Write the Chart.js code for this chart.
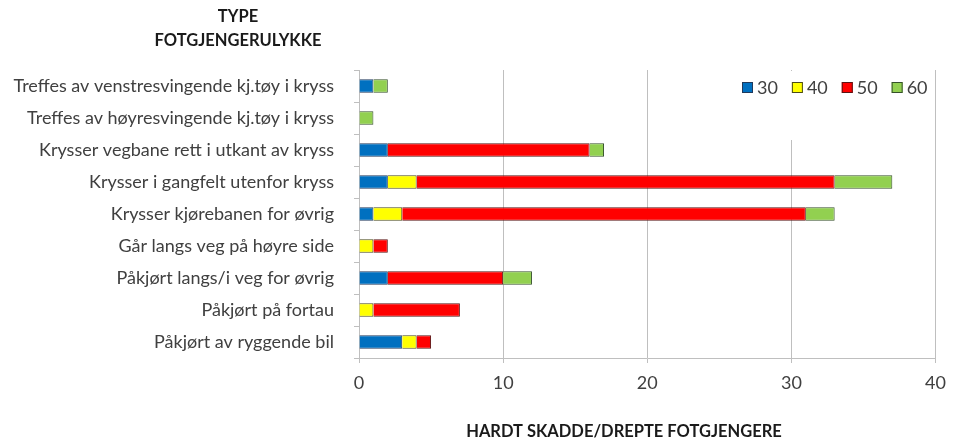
<!DOCTYPE html>
<html>
<head>
<meta charset="utf-8">
<script src="https://cdn.jsdelivr.net/npm/chart.js@4.4.1/dist/chart.umd.min.js"></script>
<style>
  html, body { margin: 0; padding: 0; background: #fff; }
  #wrap { width: 955px; height: 441px; }
</style>
</head>
<body>
<div id="wrap"><canvas id="c" width="955" height="441"></canvas></div>
<script>
const categories = [
    'Treffes av venstresvingende kj.tøy i kryss',
    'Treffes av høyresvingende kj.tøy i kryss',
    'Krysser vegbane rett i utkant av kryss',
    'Krysser i gangfelt utenfor kryss',
    'Krysser kjørebanen for øvrig',
    'Går langs veg på høyre side',
    'Påkjørt langs/i veg for øvrig',
    'Påkjørt på fortau',
    'Påkjørt av ryggende bil'
];
const speed30 = [1, 0, 2, 2, 1, 0, 2, 0, 3];
const speed40 = [0, 0, 0, 2, 2, 1, 0, 1, 1];
const speed50 = [0, 0, 14, 29, 28, 1, 8, 6, 1];
const speed60 = [1, 1, 1, 4, 2, 0, 2, 0, 0];
const seriesNames = ['30', '40', '50', '60'];
const xTicks = [0, 10, 20, 30, 40];

const FONT = 'Lato, "Open Sans", sans-serif';
const TEXT = '#404040';

const colors = ['#0070C0', '#FFFF00', '#FF0000', '#92D050'];
const borders = ['#203a5c', '#4a4a1a', '#5a1414', '#35502a'];
const values = [speed30, speed40, speed50, speed60];

// titles and the legend box (Excel style, inside the plot, top right)
const extras = {
    id: 'extras',
    beforeDatasetsDraw(chart) {
        const ctx = chart.ctx;
        ctx.save();
        ctx.fillStyle = '#fff';
        ctx.fillRect(730, chart.chartArea.top + 1, 205, 69);
        ctx.restore();
    },
    afterDraw(chart) {
        const ctx = chart.ctx;
        ctx.save();
        ctx.fillStyle = '#1a1a1a';
        ctx.font = 'bold 16.5px ' + FONT;
        ctx.textAlign = 'center';
        ctx.textBaseline = 'middle';
        ctx.fillText('TYPE', 238, 17);
        ctx.fillText('FOTGJENGERULYKKE', 238, 41);
        ctx.fillText('HARDT SKADDE/DREPTE FOTGJENGERE', 624, 432);

        // legend
        ctx.font = '18px ' + FONT;
        ctx.textAlign = 'left';
        let x = 742;
        const y = 88;
        chart.data.datasets.forEach(ds => {
            ctx.fillStyle = ds.backgroundColor;
            ctx.fillRect(x, y - 6, 11, 11);
            ctx.strokeStyle = ds.borderColor;
            ctx.lineWidth = 1;
            ctx.strokeRect(x + 0.5, y - 5.5, 10, 10);
            ctx.fillStyle = TEXT;
            ctx.fillText(ds.label, x + 15, y);
            x += 15 + ctx.measureText(ds.label).width + 14;
        });
        ctx.restore();
    }
};

new Chart(document.getElementById('c'), {
    type: 'bar',
    data: {
        labels: categories,
        datasets: values.map((v, i) => ({
            label: seriesNames[i],
            data: v,
            backgroundColor: colors[i],
            borderColor: borders[i],
            borderWidth: 1,
            barPercentage: 0.42,
            categoryPercentage: 1
        }))
    },
    options: {
        indexAxis: 'y',
        responsive: false,
        animation: false,
        layout: { padding: { top: 70, right: 10, bottom: 0, left: 0 } },
        scales: {
            x: {
                stacked: true,
                min: 0,
                max: 40,
                afterBuildTicks: s => { s.ticks = xTicks.map(v => ({ value: v })); },
                afterFit: s => { s.height = 83; },
                grid: {
                    color: '#bfbfbf',
                    lineWidth: 1,
                    tickLength: 5,
                    tickColor: '#bfbfbf'
                },
                border: { color: '#bfbfbf' },
                ticks: {
                    color: TEXT,
                    font: { family: FONT, size: 18 },
                    padding: 9
                }
            },
            y: {
                stacked: true,
                afterFit: s => { s.width = 359; },
                grid: {
                    drawOnChartArea: false,
                    tickLength: 5,
                    tickColor: '#bfbfbf'
                },
                border: { color: '#bfbfbf' },
                ticks: {
                    color: TEXT,
                    font: { family: FONT, size: 18 },
                    padding: 20
                }
            }
        },
        plugins: {
            legend: { display: false },
            tooltip: { enabled: false }
        }
    },
    plugins: [extras]
});
</script>
</body>
</html>
